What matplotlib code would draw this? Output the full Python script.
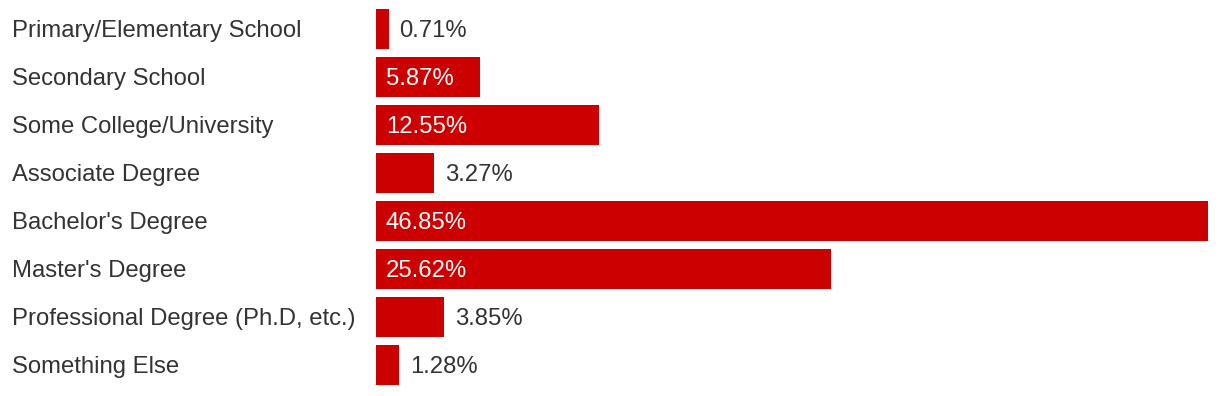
import matplotlib
matplotlib.use("Agg")
from matplotlib import pyplot as plt

categories = [
    "Primary/Elementary School",
    "Secondary School",
    "Some College/University",
    "Associate Degree",
    "Bachelor's Degree",
    "Master's Degree",
    "Professional Degree (Ph.D, etc.)",
    "Something Else",
]
values = [0.71, 5.87, 12.55, 3.27, 46.85, 25.62, 3.85, 1.28]

BAR = "#cc0000"
TEXT = "#333333"
FS = 17.2

plt.rcParams["font.family"] = ["Liberation Sans", "DejaVu Sans"]

fig = plt.figure(figsize=(12.2, 3.96), dpi=100)
W, H = 1220, 396
# axes from x=376 to 1208 px, full height
ax = fig.add_axes([376 / W, 0, (1208 - 376) / W, 1])

ys = list(range(len(categories)))
ax.barh(ys, values, height=40 / 48, color=BAR, left=0)
ax.set_xlim(0, max(values))
ax.set_ylim(7 + (396 - 365) / 48, -29 / 48)
ax.axis("off")

# baseline sits about half a cap height below the bar centre
dy = -8
pxu = (1208 - 376) / max(values)
for y, v, name in zip(ys, values, categories):
    ax.annotate(name, xy=(0, y), xycoords="data", xytext=(-364, dy),
                textcoords="offset pixels", ha="left", va="baseline",
                fontsize=FS, color=TEXT)
    label = f"{v:.2f}%"
    if v * pxu > 80:
        ax.annotate(label, xy=(0, y), xytext=(10, dy), textcoords="offset pixels",
                    ha="left", va="baseline", fontsize=FS, color="white")
    else:
        ax.annotate(label, xy=(v, y), xytext=(11, dy), textcoords="offset pixels",
                    ha="left", va="baseline", fontsize=FS, color=TEXT)

fig.savefig("out.png", dpi=100)
